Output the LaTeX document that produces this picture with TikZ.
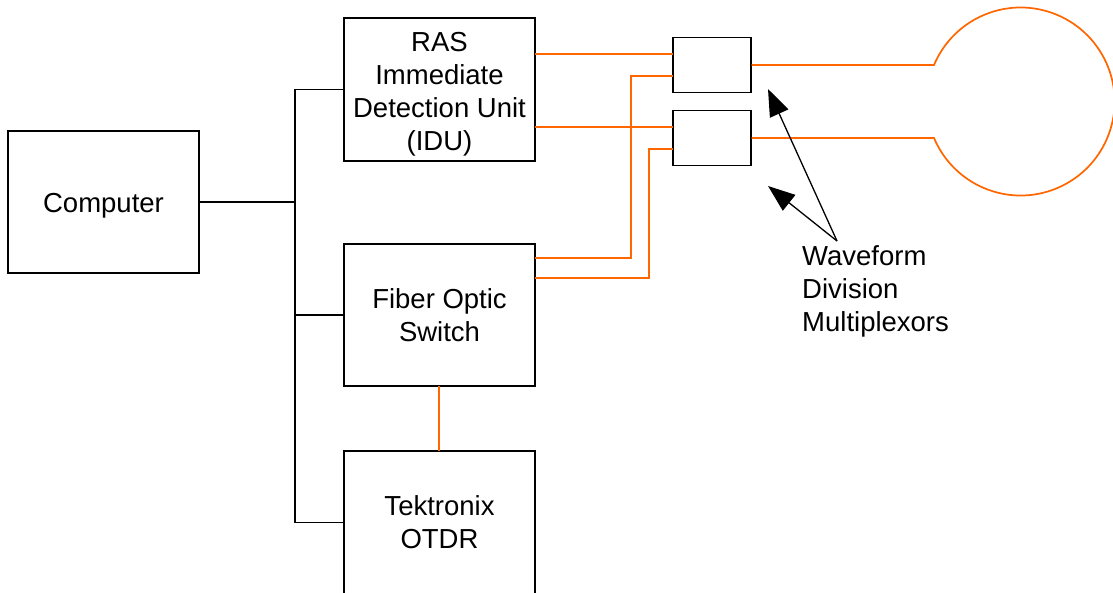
\documentclass[tikz,border=0pt]{standalone}
\usepackage{fontspec}
\setmainfont{Liberation Sans}
\usetikzlibrary{arrows.meta}
\definecolor{fib}{RGB}{255,102,0}
\begin{document}
\begin{tikzpicture}[x=1pt,y=-1pt,
  txt/.style={inner sep=0pt,align=center,font=\fontsize{27.5}{33}\selectfont},
  box/.style={draw=black,line width=1.4pt,minimum width=191pt,inner sep=0pt,align=center,
    font=\fontsize{27.5}{33}\selectfont},
  wdm/.style={draw=black,line width=1.4pt,minimum width=78pt,minimum height=55pt,inner sep=0pt},
  wire/.style={draw=black,line width=1.3pt},
  fiber/.style={draw=fib,line width=1.7pt},
  pointer/.style={draw=black,line width=1.3pt,-{Triangle[length=27pt,width=20pt]}}]
\useasboundingbox (0,0) rectangle (1113,592);
\node[box,minimum height=142pt,label={[txt,yshift=-3.5pt]center:Computer}] (comp) at (103.5,202) {};
\node[box,minimum height=143pt,label={[txt,yshift=-4.5pt]center:{RAS\\Immediate\\Detection Unit\\(IDU)}}] (idu) at (439.5,89.5) {};
\node[box,minimum height=142pt] (fos) at (439.5,315) {Fiber Optic\\Switch};
\node[box,minimum height=143pt] (otdr) at (439.5,522.5) {Tektronix\\OTDR};
\node[wdm] (wA) at (712,65) {};
\node[wdm] (wB) at (712,138) {};
\node[anchor=west,inner sep=0pt,align=left,font=\fontsize{27.5}{33}\selectfont] (lbl) at (802,291) {Waveform\\Division\\Multiplexors};
% bus
\coordinate (bc) at (295,202);
\coordinate (bt) at (295,89.5);
\coordinate (bm) at (295,315);
\coordinate (bb) at (295,522.5);
\draw[wire] (comp.east) -- (bc);
\draw[wire] (idu.west) -- (bt) -- (bb) -- (otdr.west);
\draw[wire] (fos.west) -- (bm);
% fibers
\coordinate (i1) at (535,54);   \coordinate (a1) at (673,54);
\coordinate (i2) at (535,127);  \coordinate (b1) at (673,127);
\coordinate (f1) at (535,258);  \coordinate (k1) at (631,258); \coordinate (k2) at (631,76); \coordinate (a2) at (673,76);
\coordinate (f2) at (535,278);  \coordinate (m1) at (649,278); \coordinate (m2) at (649,149); \coordinate (b2) at (673,149);
\coordinate (o1) at (439,386);  \coordinate (o2) at (439,451);
\draw[fiber] (i1) -- (a1);
\draw[fiber] (i2) -- (b1);
\draw[fiber] (f1) -- (k1) -- (k2) -- (a2);
\draw[fiber] (f2) -- (m1) -- (m2) -- (b2);
\draw[fiber] (o1) -- (o2);
\coordinate (lp) at (934,65);
\draw[fiber] (wA.east) -- (lp) arc[start angle=-157.15,end angle=157.15,radius=94] -- (wB.east);
% pointers
\coordinate (pt) at (837,241);
\coordinate (p1) at (768,89);
\coordinate (p2) at (768,186);
\draw[pointer] (pt) -- (p1);
\draw[pointer] (pt) -- (p2);
\end{tikzpicture}
\end{document}
